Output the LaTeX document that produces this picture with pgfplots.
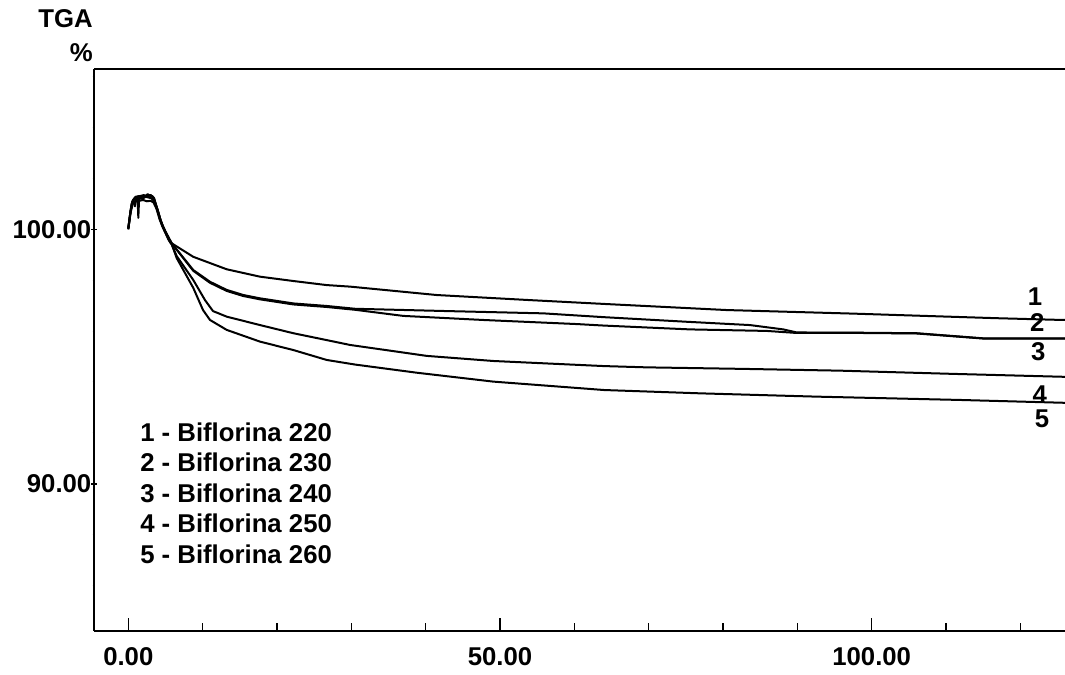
\documentclass[border=0pt]{standalone}
\usepackage{fontspec}
\setmainfont{Liberation Sans}
\usepackage{pgfplots}
\pgfplotsset{compat=1.18}
\newcommand\lbl{\fontsize{19.3}{23}\selectfont\bfseries}
\begin{document}
\begin{tikzpicture}
\pgfplotsset{
  common/.style={
    scale only axis, width=728.25pt, height=421.5pt,
    at={(70.5pt,33pt)}, anchor=south west,
    xmin=-4.614, xmax=126.0, ymin=84.229, ymax=106.294,
    axis line style={line width=1.4pt,-},
    every non boxed x axis/.append style={x axis line style=-},
    every non boxed y axis/.append style={y axis line style=-},
    tick align=inside,
    tick style={line width=1pt, black},
    tick label style={font=\lbl},
    /pgf/number format/fixed,
    /pgf/number format/fixed zerofill,
    /pgf/number format/precision=2,
    /pgf/number format/assume math mode=true,
  }
}
\begin{axis}[common,
  axis x line=box, axis y line=left,
  xtick={0,50,100}, minor xtick={10,20,...,120},
  xtick pos=left,
  ytick=\empty,
  major tick length=9.75pt, minor tick length=5.8pt,
  xticklabel style={yshift=-9pt},
]
% curve 1
\addplot[black, line width=1.5pt, line join=round] coordinates {
(0,100.05) (0.2,100.5) (0.45,101.0) (0.7,101.15) (0.9,100.9) (1.1,101.25) (1.4,101.3) (1.7,101.2) (2.0,101.35) (2.3,101.3) (2.6,101.38) (2.9,101.32) (3.2,101.3) (3.5,101.2) (3.8,100.85) (4.2,100.45) (4.6,100.15) (5.0,99.9) (5.4,99.7) (5.84,99.45)
(8.74,98.92) (13.24,98.43) (17.72,98.14) (22.20,97.97) (26.69,97.81) (29.82,97.75) (41.48,97.42) (54.04,97.22) (64.0,97.07) (80.49,96.83) (97.5,96.69) (106.05,96.61) (116.81,96.51) (125.73,96.44) (126,96.44)
};
% curve 2
\addplot[black, line width=1.5pt, line join=round] coordinates {
(0,100.0) (0.25,100.6) (0.5,101.05) (0.8,101.2) (1.2,101.15) (1.5,101.25) (1.9,101.2) (2.3,101.28) (2.7,101.25) (3.1,101.22) (3.5,101.1) (3.9,100.8) (4.3,100.4) (4.7,100.1) (5.1,99.85) (5.5,99.6) (5.84,99.45)
(8.74,98.40) (10.99,97.94) (13.24,97.62) (15.47,97.42) (17.72,97.29) (22.20,97.09) (26.69,96.99) (30.5,96.88) (42.83,96.79) (55.82,96.70) (64.0,96.55) (75.11,96.37) (83.63,96.24) (88.11,96.07) (89.91,95.95) (98.42,95.94) (106.05,95.92) (115.01,95.72) (126,95.72)
};
% curve 3
\addplot[black, line width=1.5pt, line join=round] coordinates {
(0,100.05) (0.3,100.7) (0.55,101.1) (0.9,101.25) (1.25,101.2) (1.35,100.45) (1.45,101.2) (1.8,101.3) (2.2,101.33) (2.6,101.3) (3.0,101.35) (3.4,101.25) (3.7,101.0) (4.1,100.6) (4.5,100.2) (4.9,99.95) (5.4,99.65) (5.84,99.45)
(8.74,98.37) (10.99,97.90) (13.24,97.58) (15.47,97.38) (17.72,97.25) (22.20,97.05) (26.69,96.95) (30.5,96.84) (36.99,96.60) (47.75,96.44) (60.32,96.28) (64.0,96.22) (75.56,96.07) (85.87,96.01) (89.91,95.93) (98.42,95.93) (106.05,95.91) (115.01,95.71) (126,95.71)
};
% curve 4
\addplot[black, line width=1.5pt, line join=round] coordinates {
(0,100.0) (0.3,100.65) (0.6,101.0) (1.0,101.1) (1.5,101.12) (2.0,101.15) (2.5,101.1) (3.0,101.12) (3.4,101.05) (3.8,100.8) (4.2,100.4) (4.6,100.1) (5.0,99.85) (5.4,99.6) (5.84,99.4)
(6.51,98.95) (8.74,98.01) (10.32,97.22) (11.39,96.79) (13.24,96.57) (17.72,96.24) (22.20,95.92) (26.69,95.65) (29.82,95.46) (40.14,95.03) (49.10,94.83) (64.0,94.63) (69.73,94.58) (82.73,94.52) (95.74,94.45) (111.43,94.32) (125.73,94.21) (126,94.21)
};
% curve 5
\addplot[black, line width=1.5pt, line join=round] coordinates {
(0,100.02) (0.35,100.8) (0.65,101.15) (1.0,101.28) (1.4,101.3) (1.8,101.32) (2.2,101.25) (2.6,101.36) (3.0,101.3) (3.3,101.28) (3.6,101.05) (4.0,100.7) (4.4,100.3) (4.8,100.0) (5.2,99.75) (5.6,99.5) (5.84,99.42)
(6.51,98.87) (8.74,97.70) (10.05,96.83) (10.99,96.44) (13.24,96.05) (17.72,95.59) (22.20,95.26) (26.69,94.87) (30.5,94.69) (38.79,94.37) (49.10,94.02) (64.0,93.69) (76.90,93.56) (92.60,93.43) (97.08,93.40) (111.87,93.30) (125.73,93.19) (126,93.19)
};
\node[font=\lbl] at (axis cs:121.97,97.36) {1};
\node[font=\lbl] at (axis cs:122.28,96.34) {2};
\node[font=\lbl] at (axis cs:122.41,95.18) {3};
\node[font=\lbl] at (axis cs:122.60,93.49) {4};
\node[font=\lbl] at (axis cs:122.91,92.58) {5};
\end{axis}
\begin{axis}[common,
  axis x line=none, axis y line=left,
  ytick={90,100}, minor ytick={86,88,...,106},
  major tick length=4pt, minor tick length=2.2pt,
  yticklabel style={xshift=3.5pt},
]
\end{axis}
\node[font=\lbl, anchor=base east, inner sep=0pt] at (69.75pt,485.25pt) {TGA};
\node[font=\lbl, anchor=base east, inner sep=0pt] at (69.75pt,459.75pt) {\%};
\node[font=\lbl, anchor=base west, inner sep=0pt] at (105pt,174.75pt) {1 - Biflorina 220};
\node[font=\lbl, anchor=base west, inner sep=0pt] at (105pt,152.25pt) {2 - Biflorina 230};
\node[font=\lbl, anchor=base west, inner sep=0pt] at (105pt,129pt) {3 - Biflorina 240};
\node[font=\lbl, anchor=base west, inner sep=0pt] at (105pt,106.5pt) {4 - Biflorina 250};
\node[font=\lbl, anchor=base west, inner sep=0pt] at (105pt,83.25pt) {5 - Biflorina 260};
\pgfresetboundingbox
\useasboundingbox (0,0) rectangle (798.75pt,506.25pt);
\end{tikzpicture}
\end{document}
